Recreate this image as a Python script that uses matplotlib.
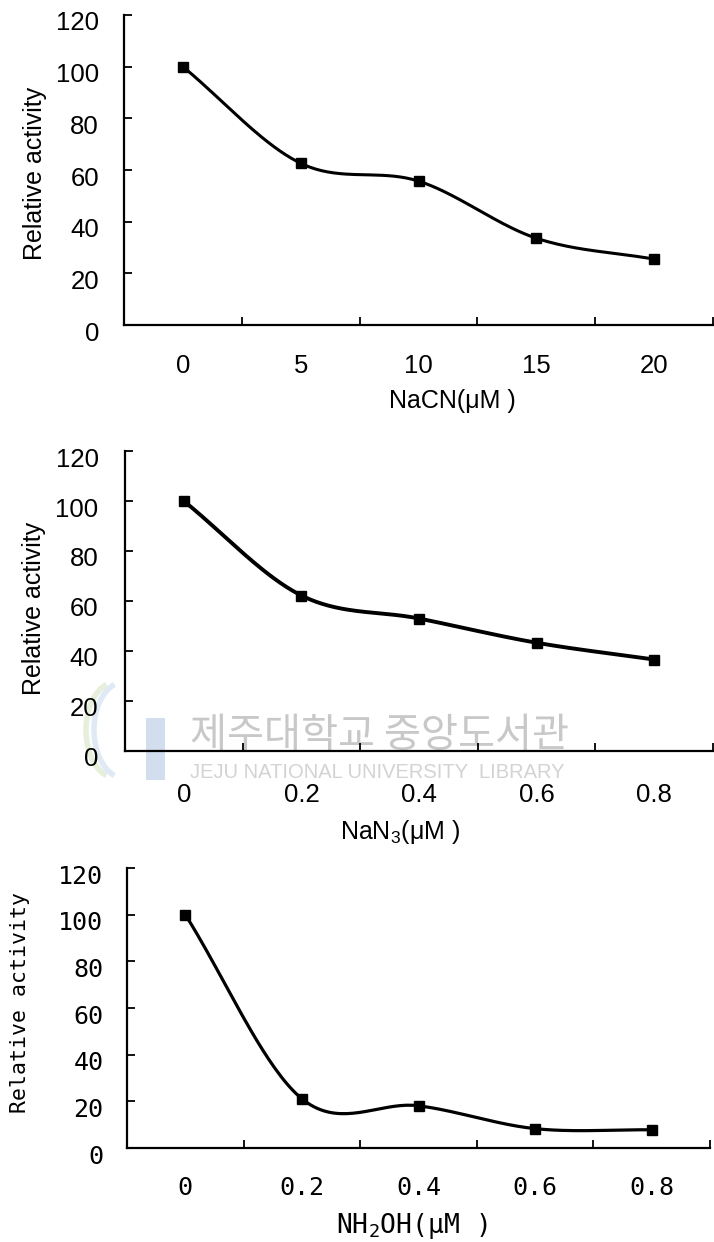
import numpy as np
import matplotlib
matplotlib.use('Agg')
import matplotlib.pyplot as plt
from matplotlib.patches import FancyBboxPatch, Arc
from matplotlib.transforms import ScaledTranslation

# values
nacn_conc = ['0', '5', '10', '15', '20']
nacn_activity = [100, 62.6, 55.7, 33.6, 25.5]

nan3_conc = ['0', '0.2', '0.4', '0.6', '0.8']
nan3_activity = [100, 62.2, 53.0, 43.3, 36.6]

nh2oh_conc = ['0', '0.2', '0.4', '0.6', '0.8']
nh2oh_activity = [100, 21.1, 18.1, 8.3, 7.8]

y_ticks = [0, 20, 40, 60, 80, 100, 120]

W, H = 714, 1242


def smooth(y, n=40):
    # Catmull-Rom curve through the points (like Excel's smoothed line)
    y = np.asarray(y, float)
    x = np.arange(len(y), dtype=float)
    px = np.concatenate([[x[0] - 1], x, [x[-1] + 1]])
    py = np.concatenate([[2 * y[0] - y[1]], y, [2 * y[-1] - y[-2]]])
    t = np.linspace(0, 1, n)
    xs, ys = [], []
    for i in range(1, len(px) - 2):
        for p, out in ((px, xs), (py, ys)):
            p0, p1, p2, p3 = p[i - 1:i + 3]
            out.append(0.5 * (2 * p1 + (p2 - p0) * t
                              + (2 * p0 - 5 * p1 + 4 * p2 - p3) * t ** 2
                              + (3 * p1 - p0 - 3 * p2 + p3) * t ** 3))
    return np.concatenate(xs), np.concatenate(ys)


def box(l, t, r, b):
    return [l / W, 1 - b / H, (r - l) / W, (b - t) / H]


fig = plt.figure(figsize=(W / 100, H / 100), dpi=100)

panels = [
    dict(cats=nacn_conc, vals=nacn_activity, xlabel='NaCN(μM )',
         rect=box(124, 15, 713, 325), font='Liberation Sans', tsize=18.5,
         ysize=18, xsize=18, lw=2.2, xpad=21, ypad=18,
         xl=(0.557, -0.205), yl=(-0.151, 0.49)),
    dict(cats=nan3_conc, vals=nan3_activity, xlabel='NaN$_\\mathregular{3}$(μM )',
         rect=box(125, 451, 713, 751), font='Liberation Sans', tsize=18.5,
         ysize=18, xsize=18, lw=2.8, xpad=23, ypad=19,
         xl=(0.468, -0.225), yl=(-0.155, 0.476)),
    dict(cats=nh2oh_conc, vals=nh2oh_activity, xlabel='NH$_\\mathregular{2}$OH(μM )',
         rect=box(127, 868, 710, 1148), font='DejaVu Sans Mono', tsize=18,
         ysize=15.5, xsize=19, lw=2.3, xpad=20, ypad=17,
         xl=(0.489, -0.225), yl=(-0.183, 0.52)),
]

for p in panels:
    ax = fig.add_axes(p['rect'])
    ax.patch.set_alpha(0)
    n = len(p['vals'])
    xs, ys = smooth(p['vals'])
    ax.plot(xs, ys, color='black', lw=p['lw'], zorder=3)
    ax.plot(range(n), p['vals'], 's', color='black', ms=7.5, zorder=4)

    ax.set_xlim(-0.5, n - 0.5)
    ax.set_ylim(0, 120)
    for s in ['top', 'right']:
        ax.spines[s].set_visible(False)
    for s in ['left', 'bottom']:
        ax.spines[s].set_linewidth(1.6)

    ax.set_xticks(range(n))
    ax.set_xticklabels(p['cats'], fontfamily=p['font'], fontsize=p['tsize'])
    ax.set_xticks(np.arange(n) + 0.5, minor=True)
    ax.set_yticks(y_ticks)
    ax.set_yticklabels([str(v) for v in y_ticks], fontfamily=p['font'], fontsize=p['tsize'])
    ax.tick_params(axis='x', which='major', length=0, pad=p['xpad'])
    ax.tick_params(axis='x', which='minor', direction='in', length=6, width=1.3)
    ax.tick_params(axis='y', direction='in', length=6, width=1.3, pad=p['ypad'])
    shift = ScaledTranslation(0, -0.06, fig.dpi_scale_trans)
    for lab in ax.get_yticklabels():
        lab.set_transform(lab.get_transform() + shift)

    ax.set_xlabel(p['xlabel'], fontfamily=p['font'], fontsize=p['xsize'])
    ax.xaxis.set_label_coords(*p['xl'])
    ax.set_ylabel('Relative activity', fontfamily=p['font'], fontsize=p['ysize'])
    ax.yaxis.label.set_va('center')
    ax.yaxis.set_label_coords(*p['yl'])

# library watermark of the scanned page
fig.patches.append(FancyBboxPatch((146 / W, 1 - 780 / H), 19 / W, 62 / H,
                                  boxstyle='round,pad=0', transform=fig.transFigure,
                                  facecolor='#d2ddee', edgecolor='none', zorder=-2))
for cx, col in [(116, '#e6efdc'), (124, '#e0eaf5')]:
    fig.patches.append(Arc((cx / W, 1 - 730 / H), 60 / W, 96 / H, theta1=110, theta2=250,
                           transform=fig.transFigure, color=col, lw=4, zorder=-2))
fig.text(190 / W, 1 - 736 / H, '제주대학교 중앙도서관', fontfamily='Noto Sans CJK KR',
         fontsize=29, color='#c8c8c8', ha='left', va='center', zorder=-1)
fig.text(190 / W, 1 - 773 / H, 'JEJU NATIONAL UNIVERSITY  LIBRARY',
         fontfamily='Liberation Sans', fontsize=14.5, color='#d3d3d3',
         ha='left', va='center', zorder=-1)

fig.savefig('out.png', dpi=100)
